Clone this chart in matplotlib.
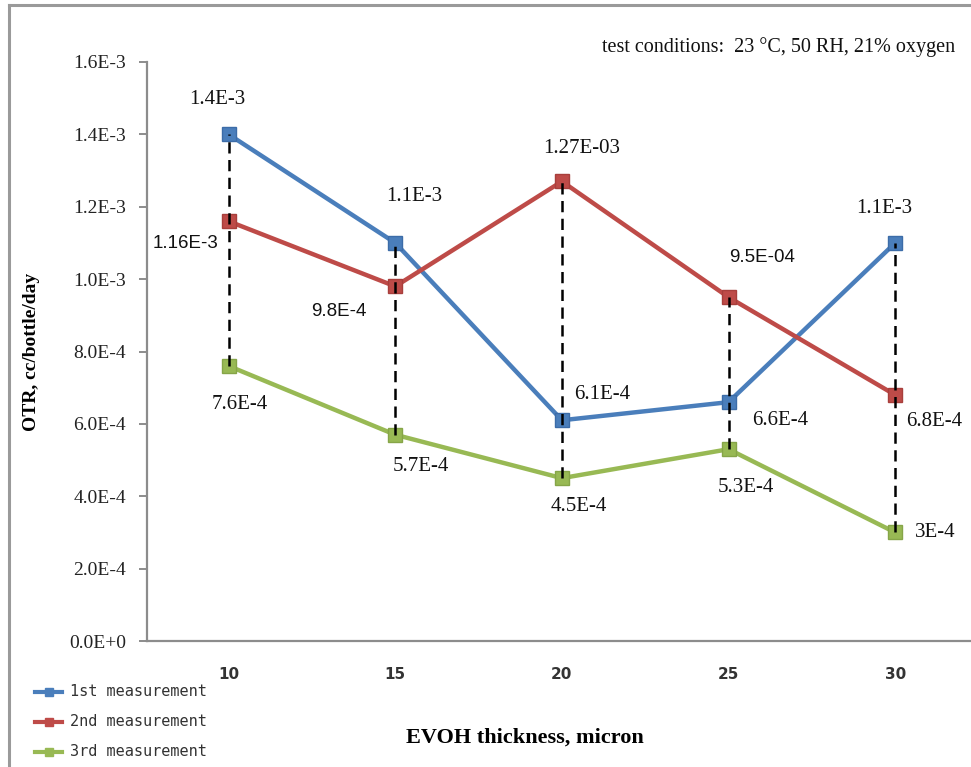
import matplotlib
matplotlib.use("Agg")
import matplotlib.pyplot as plt
from matplotlib.lines import Line2D
import numpy as np

# ---------------- data ----------------
thickness = ["10", "15", "20", "25", "30"]
series_names = ["1st measurement", "2nd measurement", "3rd measurement"]
m1 = [1.4e-3, 1.1e-3, 6.1e-4, 6.6e-4, 1.1e-3]
m2 = [1.16e-3, 9.8e-4, 1.27e-3, 9.5e-4, 6.8e-4]
m3 = [7.6e-4, 5.7e-4, 4.5e-4, 5.3e-4, 3.0e-4]
labels1 = ["1.4E-3", "1.1E-3", "6.1E-4", "6.6E-4", "1.1E-3"]
labels2 = ["1.16E-3", "9.8E-4", "1.27E-03", "9.5E-04", "6.8E-4"]
labels3 = ["7.6E-4", "5.7E-4", "4.5E-4", "5.3E-4", "3E-4"]
yticks = [0.0, 2e-4, 4e-4, 6e-4, 8e-4, 1.0e-3, 1.2e-3, 1.4e-3, 1.6e-3]
ytick_labels = ["0.0E+0", "2.0E-4", "4.0E-4", "6.0E-4", "8.0E-4",
                "1.0E-3", "1.2E-3", "1.4E-3", "1.6E-3"]
note = "test conditions:  23 \u00b0C, 50 RH, 21% oxygen"

# ---------------- styles ----------------
colors = ["#4A7EBB", "#BE4B48", "#98B954"]
edge_colors = ["#3C6CA8", "#A83F3C", "#86A548"]
# label offsets in pixels (dx, dy) and font family per label
off1 = [(-11, 35), (19, 46), (40, 26), (52, -18), (-11, 34)]
off2 = [(-43, -22), (-56, -25), (20, 33), (34, 40), (39, -27)]
off3 = [(11, -39), (26, -32), (17, -28), (17, -38), (40, 0)]
fam2 = ["sans-serif", "sans-serif", "serif", "sans-serif", "serif"]

plt.rcParams["font.serif"] = ["Liberation Serif", "DejaVu Serif"]
plt.rcParams["font.sans-serif"] = ["Liberation Sans", "DejaVu Sans"]

W, H = 971, 767
fig = plt.figure(figsize=(W / 100, H / 100), dpi=100)

# figure frame
fig.add_artist(Line2D([9 / W, 9 / W], [0, 1 - 5 / H], color="#9a9a9a", lw=2.2,
                      transform=fig.transFigure))
fig.add_artist(Line2D([9 / W, 1], [1 - 5 / H, 1 - 5 / H], color="#9a9a9a", lw=2.2,
                      transform=fig.transFigure))

left, right, bottom, top = 147, 971, 641, 62
ax = fig.add_axes([left / W, 1 - bottom / H, (right - left) / W, (bottom - top) / H])
x = np.arange(len(thickness))
ax.set_xlim(-0.49, 4.455)
ax.set_ylim(0, 1.6e-3)

for s in ["top", "right"]:
    ax.spines[s].set_visible(False)
for s in ["left", "bottom"]:
    ax.spines[s].set_color("#8c8c8c")
    ax.spines[s].set_linewidth(1.6)

ax.set_yticks(yticks)
ax.set_yticklabels(ytick_labels, fontfamily="serif", fontsize=14, color="#222222")
ax.tick_params(axis="y", length=6, width=1.4, color="#8c8c8c", pad=9)
ax.set_xticks(x)
ax.set_xticklabels(thickness, fontfamily="DejaVu Sans", fontweight="bold",
                   fontsize=11, color="#333333")
ax.tick_params(axis="x", length=0, pad=19)

all_series = [m1, m2, m3]
# high-low dashed lines
hi = np.max(np.array(all_series), axis=0)
lo = np.min(np.array(all_series), axis=0)
ax.vlines(x, lo, hi, colors="black", linestyles=(0, (4.5, 2.6)), lw=1.8, zorder=5)

for i, vals in enumerate(all_series):
    ax.plot(x, vals, color=colors[i], lw=3.2, marker="s", markersize=9.5,
            markerfacecolor=colors[i], markeredgecolor=edge_colors[i],
            markeredgewidth=1.0, zorder=3, clip_on=False)

def put_labels(vals, labs, offs, fams):
    for xi, v, lab, (dx, dy), fam in zip(x, vals, labs, offs, fams):
        ax.annotate(lab, (xi, v), xytext=(dx * 0.72, dy * 0.72),
                    textcoords="offset points", ha="center", va="center",
                    fontfamily=fam, fontsize=15 if fam == "serif" else 13.5,
                    color="#111111", zorder=6, annotation_clip=False)

put_labels(m1, labels1, off1, ["serif"] * 5)
put_labels(m2, labels2, off2, fam2)
put_labels(m3, labels3, off3, ["serif"] * 5)

# note
fig.text(955 / W, 1 - 47 / H, note, ha="right", va="center",
         fontfamily="serif", fontsize=14.5, color="#111111")

# axis labels
fig.text(32 / W, 1 - 352 / H, "OTR, cc/bottle/day", rotation=90, ha="center",
         va="center", fontfamily="serif", fontweight="bold", fontsize=14)
fig.text(525 / W, 1 - 738 / H, "EVOH thickness, micron", ha="center",
         va="center", fontfamily="serif", fontweight="bold", fontsize=16)

# legend (manual, to match position)
for i, name in enumerate(series_names):
    yy = 1 - (692 + 30 * i) / H
    fig.add_artist(Line2D([35 / W, 62 / W], [yy, yy], color=colors[i], lw=3,
                          transform=fig.transFigure))
    fig.add_artist(Line2D([48.5 / W], [yy], color=colors[i], lw=0, marker="s",
                          markersize=6, transform=fig.transFigure))
    fig.text(70 / W, yy, name, ha="left", va="center",
             fontfamily="DejaVu Sans Mono", fontsize=11, color="#333333")

fig.savefig("out.png", dpi=100)
